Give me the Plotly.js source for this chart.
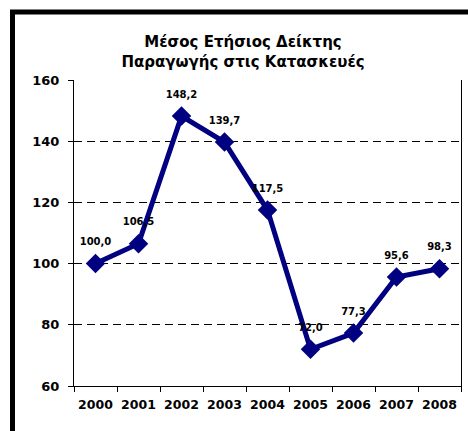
<!DOCTYPE html>
<html>
<head>
<meta charset="utf-8">
<script src="https://cdn.plot.ly/plotly-3.0.1.min.js"></script>
<style>
html,body{margin:0;padding:0;background:#fff;overflow:hidden;}
#wrap{position:relative;width:468px;height:431px;}
#chart{position:absolute;left:0;top:0;width:468px;height:431px;}
</style>
</head>
<body>
<div id="wrap">
<div id="chart"></div>
<svg id="frame" width="468" height="431" style="position:absolute;left:0;top:0;z-index:10;pointer-events:none;">
  <path d="M12.5 431 L12.5 12 L468 12" fill="none" stroke="#000" stroke-width="5"/>
</svg>
</div>
<script>
const years = ["2000","2001","2002","2003","2004","2005","2006","2007","2008"];
const indexValues = [100.0, 106.5, 148.2, 139.7, 117.5, 72.0, 77.3, 95.6, 98.3];
const labels = indexValues.map(v => v.toFixed(1).replace('.', ','));
const yTicks = [60, 80, 100, 120, 140, 160];

const W = 468, H = 431;
const mL = 74, mR = 7, mT = 80, mB = 45;

const lineTrace = {
  x: years,
  y: indexValues,
  type: 'scatter',
  mode: 'lines+markers',
  line: {color: '#000080', width: 5},
  marker: {symbol: 'diamond', size: 15, color: '#000080'},
  cliponaxis: false,
  hoverinfo: 'none'
};

const labelTrace = {
  x: years,
  y: indexValues,
  type: 'scatter',
  mode: 'markers+text',
  marker: {size: 24, opacity: 0, color: '#000080'},
  text: labels,
  textposition: 'top center',
  textfont: {family: 'DejaVu Sans', size: 10, color: '#000000', weight: 'bold'},
  cliponaxis: false,
  hoverinfo: 'none'
};

const layout = {
  width: W, height: H,
  margin: {l: mL, r: mR, t: mT, b: mB},
  paper_bgcolor: '#ffffff',
  plot_bgcolor: '#ffffff',
  showlegend: false,
  title: {
    text: 'Μέσος Ετήσιος Δείκτης<br>Παραγωγής στις Κατασκευές',
    font: {family: 'DejaVu Sans', size: 15, color: '#000000', weight: 'bold'},
    x: 243 / W, xref: 'container', xanchor: 'center',
    y: 1 - 47 / H, yref: 'container', yanchor: 'middle'
  },
  xaxis: {
    type: 'category',
    range: [-0.5, 8.5],
    tickson: 'boundaries',
    tickangle: 0,
    ticks: 'outside', ticklen: 5, tickcolor: '#000', tickwidth: 1,
    ticklabelstandoff: 7,
    showline: true, linecolor: '#000', linewidth: 1,
    showgrid: false, zeroline: false,
    tickfont: {family: 'DejaVu Sans', size: 12.5, color: '#000', weight: 'bold'},
    fixedrange: true
  },
  yaxis: {
    range: [60, 160],
    tickvals: yTicks,
    ticktext: yTicks.map(String),
    ticks: 'outside', ticklen: 5, tickcolor: '#000', tickwidth: 1,
    ticklabelstandoff: 6,
    showline: true, linecolor: '#000', linewidth: 1, mirror: true,
    showgrid: true, gridcolor: '#000', griddash: '8px,5px', gridwidth: 1,
    zeroline: false,
    tickfont: {family: 'DejaVu Sans', size: 13, color: '#000', weight: 'bold'},
    fixedrange: true
  }
};

Plotly.newPlot('chart', [lineTrace, labelTrace], layout, {displayModeBar: false, staticPlot: true});
</script>
</body>
</html>
